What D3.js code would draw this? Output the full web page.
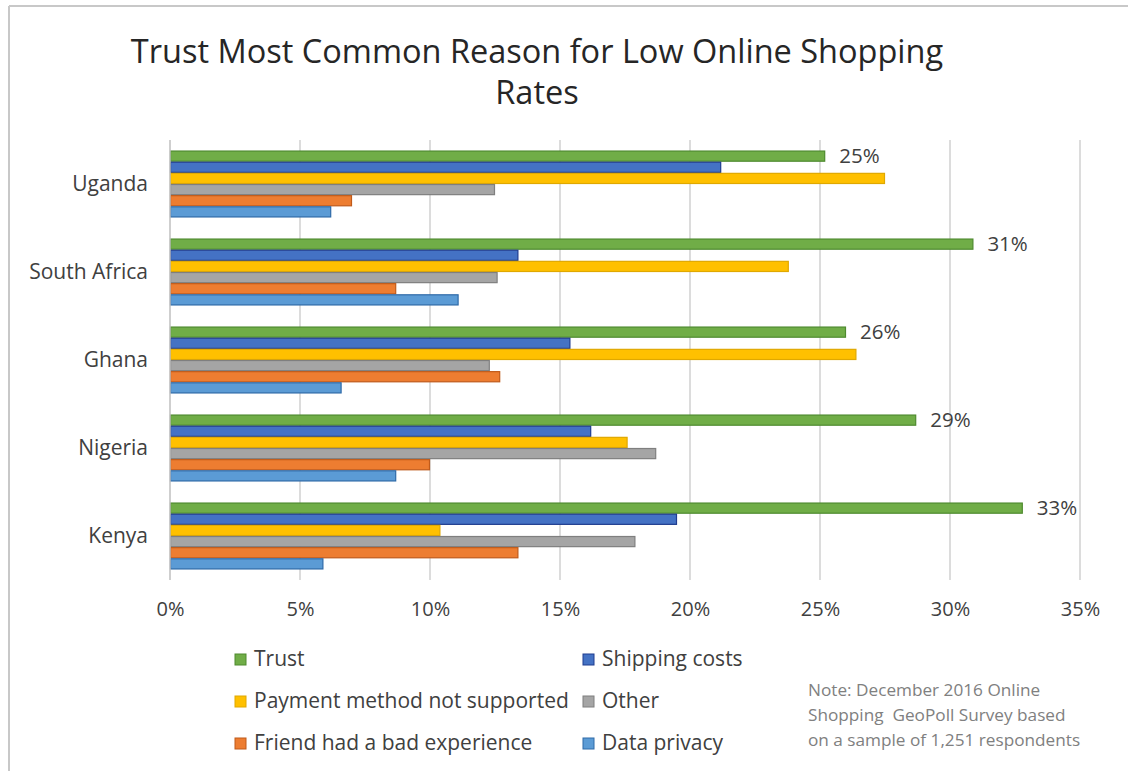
<!DOCTYPE html>
<html>
<head>
<meta charset="utf-8">
<script src="https://cdn.jsdelivr.net/npm/d3@7"></script>
<style>
  html, body { margin: 0; padding: 0; background: #fff; }
  svg { display: block; }
  text { font-family: "Open Sans", Lato, sans-serif; }
</style>
</head>
<body>
<svg id="chart" width="1128" height="771"></svg>
<script>
// ---- Data ----
const countries = ["Uganda", "South Africa", "Ghana", "Nigeria", "Kenya"];
const seriesNames = ["Trust", "Shipping costs", "Payment method not supported", "Other", "Friend had a bad experience", "Data privacy"];
const trust        = [25.2, 30.9, 26.0, 28.7, 32.8];
const shipping     = [21.2, 13.4, 15.4, 16.2, 19.5];
const payment      = [27.5, 23.8, 26.4, 17.6, 10.4];
const other        = [12.5, 12.6, 12.3, 18.7, 17.9];
const friend       = [7.0, 8.7, 12.7, 10.0, 13.4];
const dataPrivacy  = [6.2, 11.1, 6.6, 8.7, 5.9];
const trustLabels  = ["25%", "31%", "26%", "29%", "33%"];
const xTicks       = [0, 5, 10, 15, 20, 25, 30, 35];
const titleLines   = ["Trust Most Common Reason for Low Online Shopping", "Rates"];
const noteLines    = ["Note: December 2016 Online", "Shopping  GeoPoll Survey based", "on a sample of 1,251 respondents"];

const seriesValues = [trust, shipping, payment, other, friend, dataPrivacy];
const fills   = ["#70ad47", "#4472c4", "#ffc000", "#a5a5a5", "#ed7d31", "#5b9bd5"];
const strokes = ["#4e8a2e", "#1f3c8f", "#e0a800", "#7f7f7f", "#c05a1a", "#2e6aa8"];

const FONT = "'Open Sans', Lato, sans-serif";
const svg = d3.select("#chart");

// frame
svg.append("line").attr("x1", 9).attr("x2", 1128).attr("y1", 6).attr("y2", 6)
  .attr("stroke", "#c8c8c8").attr("stroke-width", 2);
svg.append("line").attr("x1", 9).attr("x2", 9).attr("y1", 6).attr("y2", 771)
  .attr("stroke", "#c8c8c8").attr("stroke-width", 2);

// title
svg.append("text").attr("x", 537).attr("y", 63).attr("text-anchor", "middle")
  .attr("font-size", 32.5).attr("fill", "#262626")
  .selectAll("tspan").data(titleLines).join("tspan")
  .attr("x", 537).attr("dy", (d, i) => i === 0 ? 0 : 41).text(d => d);

// scales
const x = d3.scaleLinear().domain([0, 35]).range([170, 1080]);
const y = d3.scaleBand().domain(countries).range([140, 580]).paddingInner(0.24).paddingOuter(0.12);
const ys = d3.scaleBand().domain(seriesNames).range([0, y.bandwidth()]);

// gridlines
svg.append("g").selectAll("line").data(xTicks.slice(1)).join("line")
  .attr("x1", d => x(d)).attr("x2", d => x(d)).attr("y1", 140).attr("y2", 580)
  .attr("stroke", "#d0d0d0").attr("stroke-width", 1.5);

// bars
const groups = svg.append("g").selectAll("g").data(countries).join("g")
  .attr("transform", d => `translate(0,${y(d)})`);
groups.selectAll("rect").data((c, ci) => seriesNames.map((s, si) => ({ s, si, v: seriesValues[si][ci] })))
  .join("rect")
  .attr("x", x(0) + 0.5)
  .attr("y", d => ys(d.s) + 0.5)
  .attr("width", d => x(d.v) - x(0) - 1)
  .attr("height", ys.bandwidth() - 1)
  .attr("fill", d => fills[d.si])
  .attr("stroke", d => strokes[d.si])
  .attr("stroke-width", 1.2);

// axis line
svg.append("line").attr("x1", x(0)).attr("x2", x(0)).attr("y1", 140).attr("y2", 580)
  .attr("stroke", "#bfbfbf").attr("stroke-width", 1.5);

// data labels on Trust bars
svg.append("g").selectAll("text").data(countries).join("text")
  .attr("x", (d, i) => x(trust[i]) + 14)
  .attr("y", d => y(d) + ys(seriesNames[0]) + ys.bandwidth() / 2)
  .attr("dy", "0.35em")
  .attr("font-size", 20.5).attr("fill", "#404040")
  .text((d, i) => trustLabels[i]);

// x axis tick labels
const xAxis = d3.axisBottom(x).tickValues(xTicks).tickFormat(d => d + "%").tickSize(0).tickPadding(0);
const gx = svg.append("g").attr("transform", "translate(0,602)").call(xAxis);
gx.select(".domain").remove();
gx.selectAll("text").attr("font-size", 20).attr("fill", "#404040").attr("font-family", FONT);

// y axis labels
const yAxis = d3.axisLeft(y).tickSize(0).tickPadding(0);
const gy = svg.append("g").attr("transform", "translate(148,0)").call(yAxis);
gy.select(".domain").remove();
gy.selectAll("text").attr("font-size", 21).attr("fill", "#404040").attr("font-family", FONT);

// legend
const legendPos = [
  { x: 235, y: 659 }, { x: 583, y: 659 },
  { x: 235, y: 701 }, { x: 583, y: 701 },
  { x: 235, y: 743 }, { x: 583, y: 743 }
];
const lg = svg.append("g").selectAll("g").data(seriesNames).join("g")
  .attr("transform", (d, i) => `translate(${legendPos[i].x},${legendPos[i].y})`);
lg.append("rect").attr("x", 0).attr("y", -5).attr("width", 11).attr("height", 11)
  .attr("fill", (d, i) => fills[i]).attr("stroke", (d, i) => strokes[i]).attr("stroke-width", 1);
lg.append("text").attr("x", 19).attr("y", 0).attr("dy", "0.35em")
  .attr("font-size", 21).attr("fill", "#404040").text(d => d);

// note
svg.append("g").selectAll("text").data(noteLines).join("text")
  .attr("x", 808).attr("y", (d, i) => 690 + i * 25).attr("dy", "0.35em")
  .style("white-space", "pre")
  .attr("font-size", 17.2).attr("fill", "#808080").text(d => d);
</script>
</body>
</html>
